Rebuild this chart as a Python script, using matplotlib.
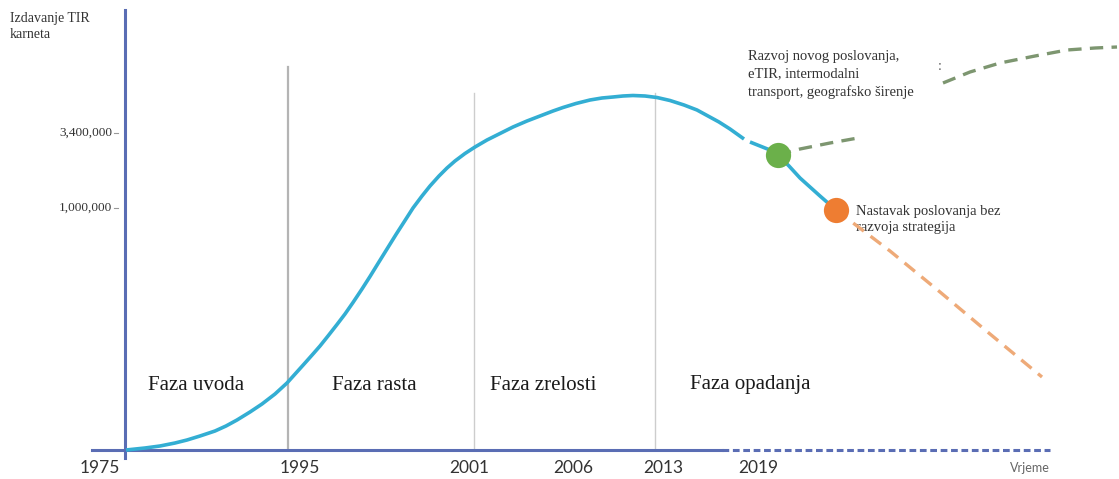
import matplotlib.pyplot as plt

plt.rcParams['font.family'] = 'Liberation Serif'

# schematic chart: positions are in chart units (x = time position, y = level, 0 at top)
curve_a_x = [126, 145, 160, 175, 187, 200, 215, 226, 237, 250, 262, 275, 287,
             296, 305, 313, 320, 328, 337, 345, 353, 362, 370, 378, 387, 396,
             405, 413, 422, 430, 439, 447, 455, 465, 475, 487, 500, 513, 527,
             540, 553, 563, 576, 590, 602, 613, 623, 633, 645, 657, 670, 684,
             697, 708, 719, 730, 737, 744]
curve_a_y = [450, 448, 446, 443, 440, 436, 431, 426, 420, 412, 404, 394, 383,
             373, 363, 354, 346, 336, 324.5, 314, 302.5, 289, 276.5, 263.5, 249, 234.5,
             220.5, 208, 196, 186, 176, 168, 161, 153.5, 147, 140, 133.5, 127, 121,
             116, 111, 107.5, 103.5, 100, 98, 97, 96, 95.5, 96, 97.5, 100.5, 105,
             110, 116, 122, 129, 134, 139]
curve_b_x = [750, 760, 770, 778, 789, 800, 810, 820, 828, 836]
curve_b_y = [142, 146, 150, 155, 166, 178, 187, 196, 203, 210]

growth_x = [778, 800, 830, 858]
growth_y = [155, 149, 143, 138]
growth2_x = [943, 970, 1000, 1035, 1067, 1095, 1117]
growth2_y = [83, 72, 63, 56, 50, 48, 47]
decline_x = [836, 890, 940, 990, 1042]
decline_y = [210, 251, 292, 334, 377]

phase_lines = [288, 474, 655]
phase_tops = [67, 93, 93]
year_pos = [100, 300, 469, 573, 663, 758]
year_labels = ['1975', '1995', '2001', '2006', '2013', '2019']
phase_pos = [148, 332, 490, 690]
phase_labels = ['Faza uvoda', 'Faza rasta', 'Faza zrelosti', 'Faza opadanja']
ytick_pos = [133, 208]
ytick_labels = ['3,400,000', '1,000,000']

fig = plt.figure(figsize=(11.19, 4.79), dpi=100)
ax = fig.add_axes([0, 0, 1, 1])
ax.set_xlim(0, 1119)
ax.set_ylim(479, 0)
ax.axis('off')

axis_c = '#5a6db4'
# phase separators
for i, (x, top) in enumerate(zip(phase_lines, phase_tops)):
    ax.plot([x, x], [top, 450], color='#b4b4b4' if i == 0 else '#cdcdcd',
            lw=1.6 if i == 0 else 1.0, zorder=1)

# axes
ax.plot([125, 125], [10, 458], color=axis_c, lw=2.2, zorder=3)
ax.plot([92, 722], [450, 450], color=axis_c, lw=2.2, zorder=3)
ax.plot([722, 1050], [450, 450], color=axis_c, lw=2.2, ls=(0, (2.2, 1.2)), zorder=3)
for y in ytick_pos:
    ax.plot([114, 118], [y, y], color='#999999', lw=0.8, zorder=3)

# lifecycle curve
ax.plot(curve_a_x, curve_a_y, color='#33aed3', lw=2.6, solid_capstyle='butt',
        solid_joinstyle='round', zorder=4)
ax.plot(curve_b_x, curve_b_y, color='#33aed3', lw=2.6, solid_capstyle='butt',
        solid_joinstyle='round', zorder=4)

# scenarios
ax.plot(growth_x, growth_y, color='#7d9670', lw=2.4, ls=(0, (4, 2.5)), zorder=4)
ax.plot(growth2_x, growth2_y, color='#7d9670', lw=2.4, ls=(0, (4, 2.5)), zorder=4)
ax.plot(decline_x, decline_y, color='#eeaa78', lw=2.4, ls=(0, (4, 2.5)), zorder=4)
ax.scatter([778], [155], s=330, color='#6bb04a', zorder=5, linewidths=0)
ax.scatter([836], [210], s=330, color='#ee7d32', zorder=5, linewidths=0)

# texts
ax.text(10, 12, 'Izdavanje TIR\nkarneta', fontsize=10, va='top', ha='left',
        color='#333333', linespacing=1.3)
for y, lab in zip(ytick_pos, ytick_labels):
    ax.text(112, y, lab, fontsize=9.5, ha='right', va='center', color='#333333')
for x, lab in zip(year_pos, year_labels):
    ax.text(x, 468, lab, fontsize=12.5, ha='center', va='center',
            family='Lato', color='#333333')
ax.text(1030, 468, 'Vrjeme', fontsize=9, ha='center', va='center',
        family='Lato', color='#666666')
for x, lab in zip(phase_pos, phase_labels):
    ax.text(x, 385, lab, fontsize=15, ha='left', va='center', color='#1a1a1a')

ax.text(748, 50, 'Razvoj novog poslovanja,\neTIR, intermodalni\ntransport, geografsko širenje',
        fontsize=10.5, va='top', ha='left', color='#333333', linespacing=1.45)
ax.text(940, 66, ':', fontsize=10, ha='center', va='center', color='#555555')
ax.text(856, 205, 'Nastavak poslovanja bez\nrazvoja strategija', fontsize=10.5,
        va='top', ha='left', color='#333333', linespacing=1.35)

plt.savefig('out.png', dpi=100)
